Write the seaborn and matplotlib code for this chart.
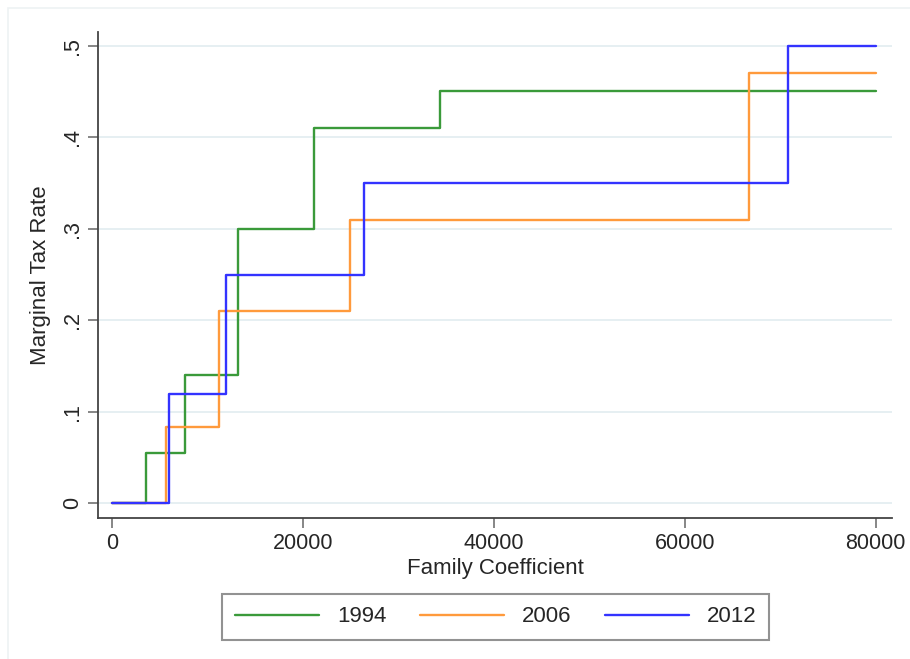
import numpy as np
import pandas as pd
import matplotlib
matplotlib.use("Agg")
import matplotlib.pyplot as plt
from matplotlib.patches import Rectangle
import seaborn as sns

# bracket thresholds (family coefficient) and marginal rates
years = ["1994", "2006", "2012"]
thresholds_1994 = [0, 3500, 7570, 13150, 21150, 34310]
rates_1994 = [0, 0.055, 0.14, 0.30, 0.41, 0.45]
thresholds_2006 = [0, 5614, 11198, 24872, 66679]
rates_2006 = [0, 0.083, 0.21, 0.31, 0.47]
thresholds_2012 = [0, 5963, 11896, 26420, 70830]
rates_2012 = [0, 0.12, 0.25, 0.35, 0.50]
x_end = 80000

yticks = [0, 0.1, 0.2, 0.3, 0.4, 0.5]
ytick_labels = ["0", ".1", ".2", ".3", ".4", ".5"]
xticks = [0, 20000, 40000, 60000, 80000]

colors = {"1994": "#3a9a3a", "2006": "#ff9a3c", "2012": "#3333ff"}

# build long table, last rate held out to x_end
rows = []
for yr, th, rt in zip(years,
                      [thresholds_1994, thresholds_2006, thresholds_2012],
                      [rates_1994, rates_2006, rates_2012]):
    for t, r in zip(th + [x_end], rt + [rt[-1]]):
        rows.append({"year": yr, "income": t, "rate": r})
df = pd.DataFrame(rows)

sns.set_style("white")
plt.rcParams["font.family"] = ["Liberation Sans", "DejaVu Sans"]

fig = plt.figure(figsize=(9.1, 6.59), dpi=100)
ax = fig.add_axes([98 / 910, (659 - 517.7) / 659, (892 - 98) / 910, (517.7 - 32) / 659])

# faint outer frame (stata graph region)
fig.add_artist(Rectangle((8 / 910, -0.02), 1.0, 0.02 + 651 / 659, transform=fig.transFigure,
                         fill=False, ec="#eef2f3", lw=1.2))

ax.set_yticks(yticks)
ax.yaxis.grid(True, color="#e4eef1", lw=1.3)
ax.xaxis.grid(False)
ax.set_axisbelow(True)

sns.lineplot(data=df, x="income", y="rate", hue="year", palette=colors,
             hue_order=years, drawstyle="steps-post", estimator=None,
             lw=1.7, ax=ax, legend=False)

ax.set_xlim(-1500, 81700)
ax.set_ylim(-0.0157, 0.515)
ax.set_xticks(xticks)
ax.set_xticklabels([str(x) for x in xticks], fontsize=15.5)
ax.set_yticklabels(ytick_labels, fontsize=15.5, rotation=90, va="center")

for side in ["top", "right"]:
    ax.spines[side].set_visible(False)
for side in ["left", "bottom"]:
    ax.spines[side].set_color("#444444")
    ax.spines[side].set_linewidth(1.3)
ax.tick_params(direction="out", length=7, width=1.1, color="#666666", pad=4,
               left=True, bottom=True)

ax.set_xlabel("Family Coefficient", fontsize=16, labelpad=3)
ax.set_ylabel("Marginal Tax Rate", fontsize=16, labelpad=8)

handles = ax.get_lines()[:3]
leg = fig.legend(handles, years, loc="center", ncol=3,
                 bbox_to_anchor=(495.5 / 910, (659 - 617) / 659),
                 fontsize=16, frameon=True, fancybox=False,
                 handlelength=3.8, handletextpad=0.8, columnspacing=1.5,
                 borderpad=0.55)
leg.get_frame().set_edgecolor("#777777")
leg.get_frame().set_linewidth(1.5)

fig.savefig("out.png", dpi=100)
